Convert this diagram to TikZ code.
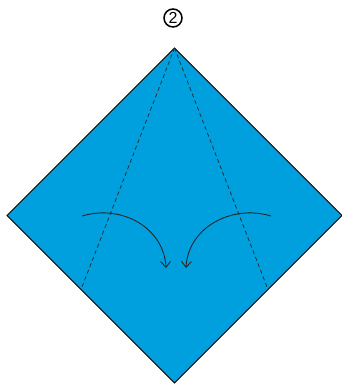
\documentclass[tikz,border=0pt]{standalone}
\usepackage{fontspec}
\setmainfont{Liberation Sans}
\usetikzlibrary{arrows.meta}
\definecolor{paperblue}{RGB}{0,160,222}
\tikzset{
  paper/.style={fill=paperblue,draw=black,line width=0.8pt,line join=miter},
  foldline/.style={draw=black!85,line width=0.7pt,dash pattern=on 4pt off 3pt},
  foldarrow/.style={draw=black!85,line width=0.9pt,-{Straight Barb[length=6pt,width=10pt]}},
  steplabel/.style={circle,draw=black,line width=1.5pt,minimum size=18pt,inner sep=0pt,
    font=\fontsize{16}{16}\selectfont}
}
\begin{document}
\begin{tikzpicture}[x=1pt,y=-1pt]
\useasboundingbox (0,0) rectangle (342,385);
\coordinate (top) at (174.5,48);
\coordinate (left) at (7,215.5);
\coordinate (right) at (342,215.5);
\coordinate (bottom) at (174.5,383);
\coordinate (dl) at (81,289.5);
\coordinate (dr) at (268,289.5);
\path[paper] (top) -- (right) -- (bottom) -- (left) -- cycle;
\draw[foldline] (top) -- (dl);
\draw[foldline] (top) -- (dr);
\coordinate (la) at (82,216);
\coordinate (lb) at (166,268);
\coordinate (ra) at (271,216);
\coordinate (rb) at (186,268);
\draw[foldarrow] (la) .. controls (122,204) and (164,228) .. (lb);
\draw[foldarrow] (ra) .. controls (231,204) and (188,228) .. (rb);
\node[steplabel] (lbl) at (173,18) {2};
\end{tikzpicture}
\end{document}
